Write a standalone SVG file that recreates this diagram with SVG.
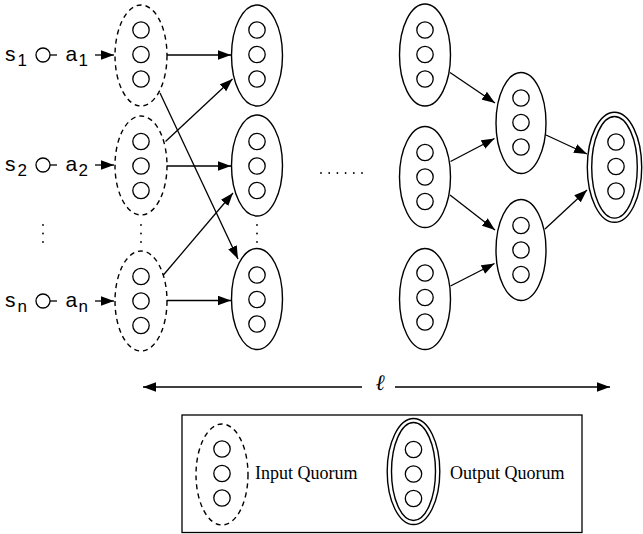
<svg xmlns="http://www.w3.org/2000/svg" width="643" height="534" viewBox="0 0 643 534">
<style>
.q{fill:#fff;stroke:#000;stroke-width:1.4}
.d{fill:#fff;stroke:#000;stroke-width:1.4;stroke-dasharray:5 4}
.c{fill:none;stroke:#000;stroke-width:1.3}
.e{stroke:#000;stroke-width:1.3;fill:none}
.lab{font-family:"Liberation Sans",Arial,sans-serif;font-size:21px;fill:#000}
.sub{font-family:"Liberation Sans",Arial,sans-serif;font-size:17px;fill:#000}
.leg{font-family:"Liberation Serif","Times New Roman",serif;font-size:18px;fill:#000}
.dot{fill:#000}
</style>
<defs>
<marker id="ah" markerUnits="userSpaceOnUse" markerWidth="14" markerHeight="10" refX="13" refY="4.75" orient="auto-start-reverse">
<path d="M0,0 L13,4.75 L0,9.5 z" fill="#000"/>
</marker>
<g id="three">
<circle class="c" cx="0" cy="-24.5" r="8.2"/>
<circle class="c" cx="0" cy="0" r="8.2"/>
<circle class="c" cx="0" cy="24.5" r="8.2"/>
</g>
</defs>

<g id="connectors">
<line class="e" x1="95" y1="55" x2="114" y2="55" marker-end="url(#ah)"/>
<line class="e" x1="95" y1="165" x2="114" y2="165" marker-end="url(#ah)"/>
<line class="e" x1="95" y1="301" x2="114" y2="301" marker-end="url(#ah)"/>
<line class="e" x1="167" y1="55" x2="231" y2="55" marker-end="url(#ah)"/>
<line class="e" x1="160" y1="93" x2="238" y2="259" marker-end="url(#ah)"/>
<line class="e" x1="165.5" y1="141.5" x2="232.5" y2="79" marker-end="url(#ah)"/>
<line class="e" x1="167" y1="166" x2="231" y2="166" marker-end="url(#ah)"/>
<line class="e" x1="163" y1="275.5" x2="233" y2="193" marker-end="url(#ah)"/>
<line class="e" x1="167" y1="300.5" x2="231" y2="300.5" marker-end="url(#ah)"/>
<line class="e" x1="450" y1="72.5" x2="495" y2="103" marker-end="url(#ah)"/>
<line class="e" x1="450.5" y1="161.5" x2="494.5" y2="138.5" marker-end="url(#ah)"/>
<line class="e" x1="450" y1="195" x2="495" y2="230" marker-end="url(#ah)"/>
<line class="e" x1="450.5" y1="286" x2="494.5" y2="263.5" marker-end="url(#ah)"/>
<line class="e" x1="546" y1="135" x2="587" y2="154" marker-end="url(#ah)"/>
<line class="e" x1="545" y1="229" x2="587" y2="190" marker-end="url(#ah)"/>
<line class="e" x1="143" y1="387" x2="362" y2="387" marker-start="url(#ah)"/>
<line class="e" x1="395" y1="387" x2="610" y2="387" marker-end="url(#ah)"/>
</g>

<g id="sources">
<text class="lab" x="5" y="60.5">s</text><text class="sub" x="17.5" y="66">1</text>
<circle class="c" cx="43" cy="55" r="7"/><line class="e" x1="50" y1="55" x2="57" y2="55"/>
<text class="lab" x="65.5" y="60.5">a</text><text class="sub" x="78.5" y="66">1</text>
<text class="lab" x="5" y="170.5">s</text><text class="sub" x="17.5" y="176">2</text>
<circle class="c" cx="43" cy="165" r="7"/><line class="e" x1="50" y1="165" x2="57" y2="165"/>
<text class="lab" x="65.5" y="170.5">a</text><text class="sub" x="78.5" y="176">2</text>
<text class="lab" x="5" y="306.5">s</text><text class="sub" x="17.5" y="312">n</text>
<circle class="c" cx="43" cy="301" r="7"/><line class="e" x1="50" y1="301" x2="57" y2="301"/>
<text class="lab" x="65.5" y="306.5">a</text><text class="sub" x="78.5" y="312">n</text>
<circle class="dot" cx="43" cy="225" r="0.9"/><circle class="dot" cx="43" cy="233.5" r="0.9"/><circle class="dot" cx="43" cy="242" r="0.9"/>
</g>

<g id="input1"><ellipse class="d" cx="141" cy="55.5" rx="26" ry="50.5"/><use href="#three" x="141" y="54.5"/></g>
<g id="input2"><ellipse class="d" cx="141" cy="165.5" rx="26" ry="49.5"/><use href="#three" x="141" y="166"/></g>
<g id="input3"><ellipse class="d" cx="141" cy="301" rx="26" ry="50"/><use href="#three" x="141" y="301"/></g>
<g id="input-dots"><circle class="dot" cx="141" cy="225" r="0.9"/><circle class="dot" cx="141" cy="233.5" r="0.9"/><circle class="dot" cx="141" cy="242" r="0.9"/></g>

<g id="mid1"><ellipse class="q" cx="257" cy="55.5" rx="25.5" ry="50.5"/><use href="#three" x="257" y="54.5"/></g>
<g id="mid2"><ellipse class="q" cx="257" cy="165.5" rx="25.5" ry="50.5"/><use href="#three" x="257" y="166"/></g>
<g id="mid3"><ellipse class="q" cx="257" cy="299" rx="25.5" ry="50.5"/><use href="#three" x="257" y="299.5"/></g>
<g id="mid-dots"><circle class="dot" cx="257" cy="225" r="0.9"/><circle class="dot" cx="257" cy="233.5" r="0.9"/><circle class="dot" cx="257" cy="242" r="0.9"/></g>

<g id="hdots">
<circle class="dot" cx="321" cy="173" r="0.9"/><circle class="dot" cx="329.2" cy="173" r="0.9"/><circle class="dot" cx="337.4" cy="173" r="0.9"/><circle class="dot" cx="345.6" cy="173" r="0.9"/><circle class="dot" cx="353.8" cy="173" r="0.9"/><circle class="dot" cx="362" cy="173" r="0.9"/>
</g>

<g id="right1"><ellipse class="q" cx="425" cy="55" rx="25.5" ry="51"/><use href="#three" x="425" y="54.5"/></g>
<g id="right2"><ellipse class="q" cx="425" cy="177" rx="25.5" ry="50.5"/><use href="#three" x="425" y="177"/></g>
<g id="right3"><ellipse class="q" cx="425" cy="299" rx="25.5" ry="50.5"/><use href="#three" x="425" y="297.5"/></g>

<g id="level2a"><ellipse class="q" cx="521" cy="123" rx="25" ry="50.5"/><use href="#three" x="521" y="122.5"/></g>
<g id="level2b"><ellipse class="q" cx="521" cy="250" rx="25" ry="50.5"/><use href="#three" x="521" y="250"/></g>

<g id="output"><ellipse class="q" cx="614.5" cy="167.3" rx="27.2" ry="55"/><ellipse class="q" cx="614.5" cy="167.3" rx="22.8" ry="50.8"/><use href="#three" x="616" y="166.5"/></g>

<g id="length-label"><text x="380" y="390" text-anchor="middle" style="font-family:'DejaVu Serif','Liberation Serif',serif;font-style:italic;font-size:22px">ℓ</text></g>

<g id="legend">
<rect x="182" y="415" width="400" height="117.5" fill="none" stroke="#000" stroke-width="1.3"/>
<ellipse class="d" cx="222" cy="474.5" rx="26" ry="50.5"/><use href="#three" x="222" y="473.5"/>
<text class="leg" x="255" y="478.5">Input Quorum</text>
<ellipse class="q" cx="413.5" cy="471.5" rx="26.3" ry="53"/><ellipse class="q" cx="413.5" cy="471.5" rx="22" ry="49"/><use href="#three" x="413.5" y="474"/>
<text class="leg" x="450" y="478.5">Output Quorum</text>
</g>
</svg>
